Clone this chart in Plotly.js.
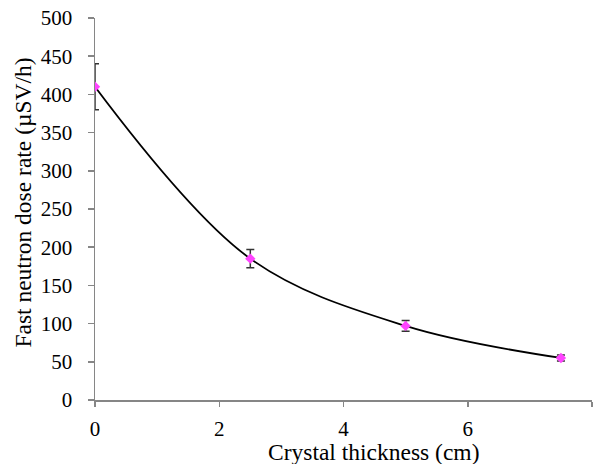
<!DOCTYPE html>
<html><head><meta charset="utf-8">
<script src="https://cdn.plot.ly/plotly-3.0.1.min.js"></script>
<style>html,body{margin:0;padding:0;background:#fff}#chart{width:596px;height:464px}</style>
</head><body><div id="chart"></div>
<script>
const thickness = [0, 2.5, 5, 7.5];
const doseRate = [410, 185, 97, 55];
const doseError = [30, 12, 7, 4];
const xTicks = [0, 2, 4, 6, 8];
const yTicks = [0, 50, 100, 150, 200, 250, 300, 350, 400, 450, 500];
const xTitle = 'Crystal thickness (cm)';
const yTitle = 'Fast neutron dose rate (µSV/h)';

const serif = 'Liberation Serif, Times New Roman, serif';

Plotly.newPlot('chart', [
  {
    x: thickness, y: doseRate, type: 'scatter', mode: 'lines',
    line: {shape: 'spline', smoothing: 1, color: '#000', width: 1.75},
    hoverinfo: 'skip', showlegend: false
  },
  {
    x: thickness, y: doseRate, type: 'scatter', mode: 'markers',
    marker: {symbol: 'diamond', size: 8, color: '#ff44ff'},
    error_y: {type: 'data', array: doseError, visible: true, color: '#333', thickness: 1.5, width: 4},
    showlegend: false
  }
], {
  width: 596, height: 464,
  margin: {l: 95, r: 4, t: 18, b: 64},
  paper_bgcolor: '#fff', plot_bgcolor: '#fff',
  font: {family: serif, color: '#000'},
  xaxis: {
    range: [0, 8], tickvals: xTicks, ticktext: xTicks.map(String),
    showgrid: false, zeroline: false, showline: true, linecolor: '#868686', linewidth: 1.5,
    ticks: 'outside', ticklen: 5, tickcolor: '#868686', tickwidth: 1.5,
    ticklabelstandoff: 4,
    tickfont: {family: serif, size: 21, color: '#000'}
  },
  yaxis: {
    range: [0, 500], tickvals: yTicks, ticktext: yTicks.map(String),
    showgrid: false, zeroline: false, showline: true, linecolor: '#868686', linewidth: 1.5,
    ticks: 'outside', ticklen: 6, tickcolor: '#868686', tickwidth: 1.5,
    ticklabelstandoff: 11,
    tickfont: {family: serif, size: 21, color: '#000'}
  },
  annotations: [
    {text: xTitle, xref: 'paper', yref: 'paper', x: 0.5604, y: -0.136,
     xanchor: 'center', yanchor: 'middle', showarrow: false,
     font: {family: serif, size: 23.5, color: '#000'}},
    {text: yTitle, xref: 'paper', yref: 'paper', x: -0.1439, y: 0.518, textangle: -90,
     xanchor: 'center', yanchor: 'middle', showarrow: false,
     font: {family: serif, size: 23.5, color: '#000'}}
  ]
}, {displayModeBar: false, staticPlot: true});
</script></body></html>
